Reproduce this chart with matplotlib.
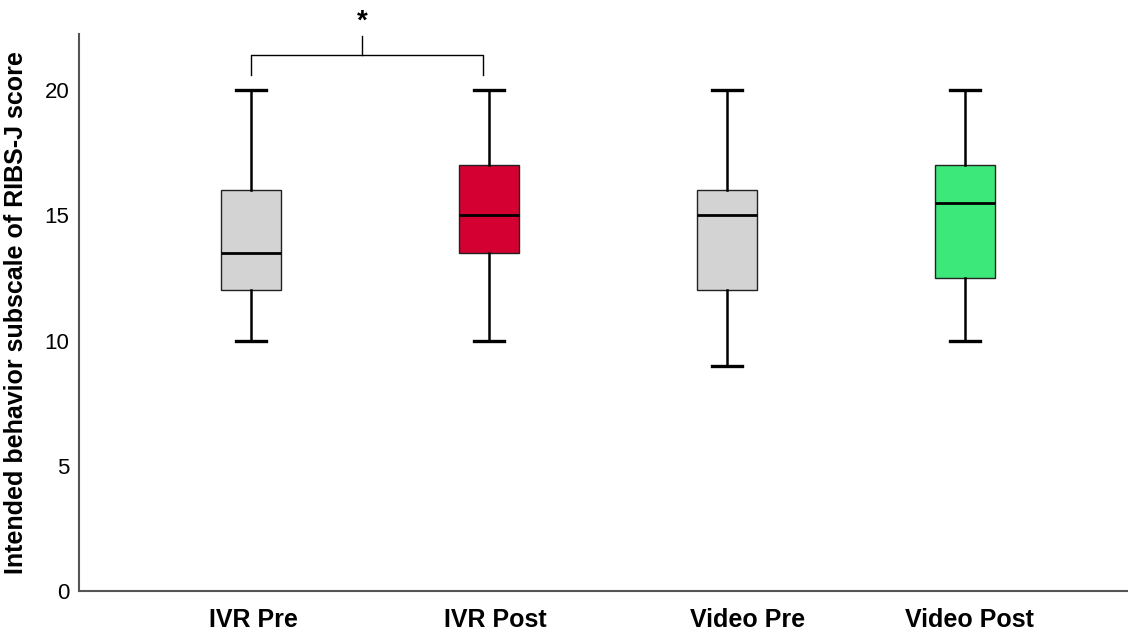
import matplotlib
matplotlib.use("Agg")
import matplotlib.pyplot as plt

# Data
groups = ["IVR Pre", "IVR Post", "Video Pre", "Video Post"]
whislo = [10, 10, 9, 10]
q1 = [12, 13.5, 12, 12.5]
med = [13.5, 15, 15, 15.5]
q3 = [16, 17, 16, 17]
whishi = [20, 20, 20, 20]
colors = ["#D3D3D3", "#D40032", "#D3D3D3", "#3DE87A"]

plt.rcParams["font.family"] = ["Liberation Sans", "DejaVu Sans"]

fig = plt.figure(figsize=(11.28, 6.31), dpi=100)
ax = fig.add_axes([0.070, 0.0634, 0.930, 0.8827])

stats = []
for i, g in enumerate(groups):
    stats.append(dict(label=g, whislo=whislo[i], q1=q1[i], med=med[i],
                      q3=q3[i], whishi=whishi[i], fliers=[]))

positions = list(range(1, len(groups) + 1))
bp = ax.bxp(stats, positions=positions, widths=0.252, patch_artist=True,
            showfliers=False,
            boxprops=dict(linewidth=1.0, edgecolor="#222222"),
            medianprops=dict(color="black", linewidth=2),
            whiskerprops=dict(color="black", linewidth=1.8),
            capprops=dict(color="black", linewidth=2.4),
            capwidths=0.126)
for patch, c in zip(bp["boxes"], colors):
    patch.set_facecolor(c)

# category labels sit slightly off-centre in the original
label_shift = [0.01, 0.025, 0.088, 0.02]
ax.set_xticks([p + s for p, s in zip(positions, label_shift)])
ax.set_xticklabels(groups, fontweight="bold")

ax.set_xlim(0.277, 4.685)
ax.set_ylim(0, 22.24)
ax.set_yticks([0, 5, 10, 15, 20])
ax.tick_params(axis="both", length=0)
ax.tick_params(axis="y", labelsize=16, pad=7)
ax.tick_params(axis="x", labelsize=18, pad=12)
ax.set_ylabel("Intended behavior subscale of RIBS-J score", fontsize=18,
              fontweight="bold", labelpad=12)

for side in ["top", "right"]:
    ax.spines[side].set_visible(False)
for side in ["left", "bottom"]:
    ax.spines[side].set_color("#555555")
    ax.spines[side].set_linewidth(1.5)

# Significance bracket between IVR Pre and IVR Post
x1, x2 = 1.0, 1.975
y_low, y_top = 20.6, 21.4
ax.plot([x1, x1, x2, x2], [y_low, y_top, y_top, y_low], color="black",
        linewidth=1.0, clip_on=False)
xm = 1.466
ax.plot([xm, xm], [y_top, 22.16], color="black", linewidth=1.0, clip_on=False)
ax.text(xm, 22.2, "*", ha="center", va="bottom", fontsize=20,
        fontweight="bold", clip_on=False)

fig.savefig("out.png", dpi=100)
